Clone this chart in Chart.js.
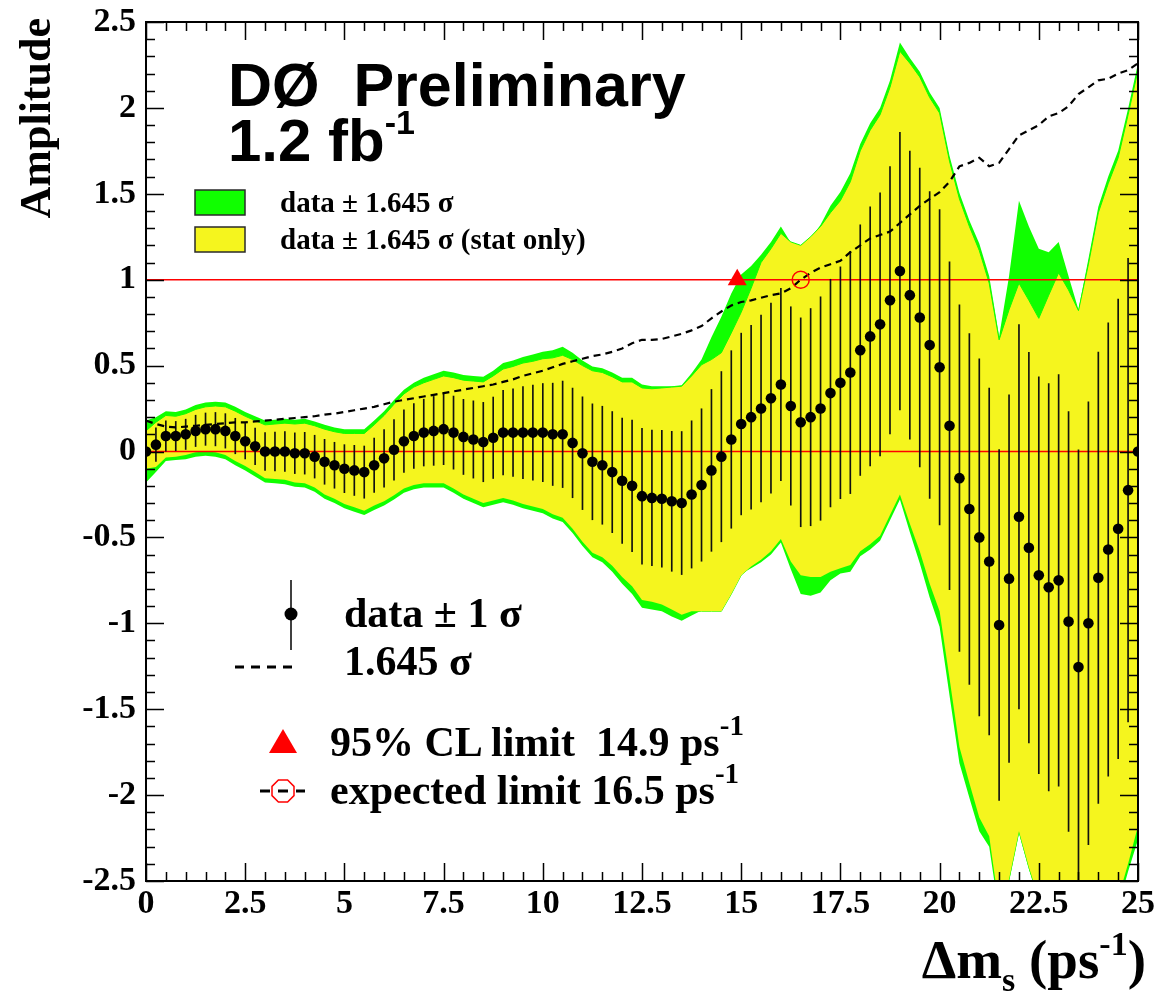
<!DOCTYPE html>
<html>
<head>
<meta charset="utf-8">
<title>Amplitude scan</title>
<script src="https://cdn.jsdelivr.net/npm/chart.js@4.4.1/dist/chart.umd.min.js"></script>
<style>
  html, body { margin: 0; padding: 0; background: #ffffff; }
  #wrap { position: relative; width: 1169px; height: 997px; }
  #c { position: absolute; left: 0; top: 0; }
  #ann { position: absolute; left: 0; top: 0; pointer-events: none; }
</style>
</head>
<body>
<div id="wrap">
  <canvas id="c" width="1169" height="997"></canvas>
  <svg id="ann" width="1169" height="997" xmlns="http://www.w3.org/2000/svg"
       font-family="'Liberation Serif','Times New Roman',serif" font-weight="bold" fill="#000">
    <!-- experiment label -->
    <text x="228" y="106" font-family="'Liberation Sans',Arial,sans-serif" font-size="61" style="white-space:pre">DØ  Preliminary</text>
    <text x="228" y="161" font-family="'Liberation Sans',Arial,sans-serif" font-size="60">1.2 fb<tspan dy="-27" font-size="34">-1</tspan></text>

    <!-- band legend -->
    <rect x="195" y="190" width="50" height="25" fill="#10ff00" stroke="#2a2a2a" stroke-width="1.5"/>
    <rect x="195" y="227" width="50" height="25" fill="#f5f51e" stroke="#2a2a2a" stroke-width="1.5"/>
    <text x="280" y="212" font-size="29">data ± 1.645 σ</text>
    <text x="280" y="249" font-size="29">data ± 1.645 σ (stat only)</text>

    <!-- data / sensitivity legend -->
    <line x1="291" y1="580" x2="291" y2="650" stroke="#000" stroke-width="1.5"/>
    <circle cx="291" cy="614" r="6.5" fill="#000"/>
    <text x="344" y="627" font-size="42">data ± 1 σ</text>
    <line x1="235" y1="667" x2="298" y2="667" stroke="#000" stroke-width="3" stroke-dasharray="9 7"/>
    <text x="344" y="675" font-size="42">1.645 σ</text>

    <!-- limit legend -->
    <polygon points="283,729 297,753 269,753" fill="#ff0000"/>
    <text id="lim95" x="330" y="756" font-size="42" style="white-space:pre"></text>
    <line x1="260" y1="791" x2="270" y2="791" stroke="#000" stroke-width="3"/>
    <line x1="278" y1="791" x2="288" y2="791" stroke="#000" stroke-width="3"/>
    <line x1="296" y1="791" x2="305" y2="791" stroke="#000" stroke-width="3"/>
    <polygon points="278.4,780 287.6,780 294,786.4 294,795.6 287.6,802 278.4,802 272,795.6 272,786.4"
             fill="none" stroke="#ff0000" stroke-width="1.5"/>
    <text id="limExp" x="330" y="804" font-size="42" style="white-space:pre"></text>

    <!-- axis titles -->
    <text transform="translate(50,18) rotate(-90)" text-anchor="end" font-size="44">Amplitude</text>
    <text x="1146" y="978" text-anchor="end" font-size="55">Δm<tspan dy="13" font-size="34">s</tspan><tspan dy="-13"> (ps</tspan><tspan dy="-23" font-size="34">-1</tspan><tspan dy="23">)</tspan></text>
  </svg>
</div>
<script>
// Oscillation frequency scan points (ps^-1)
const dm = [
  0, 0.25, 0.5, 0.75, 1, 1.25, 1.5, 1.75, 2, 2.25,
  2.5, 2.75, 3, 3.25, 3.5, 3.75, 4, 4.25, 4.5, 4.75,
  5, 5.25, 5.5, 5.75, 6, 6.25, 6.5, 6.75, 7, 7.25,
  7.5, 7.75, 8, 8.25, 8.5, 8.75, 9, 9.25, 9.5, 9.75,
  10, 10.25, 10.5, 10.75, 11, 11.25, 11.5, 11.75, 12, 12.25,
  12.5, 12.75, 13, 13.25, 13.5, 13.75, 14, 14.25, 14.5, 14.75,
  15, 15.25, 15.5, 15.75, 16, 16.25, 16.5, 16.75, 17, 17.25,
  17.5, 17.75, 18, 18.25, 18.5, 18.75, 19, 19.25, 19.5, 19.75,
  20, 20.25, 20.5, 20.75, 21, 21.25, 21.5, 21.75, 22, 22.25,
  22.5, 22.75, 23, 23.25, 23.5, 23.75, 24, 24.25, 24.5, 24.75,
  25
];

// Fitted amplitude at each scan point
const amp = [
  0.00, 0.04, 0.09, 0.09, 0.10, 0.12, 0.13, 0.13, 0.12, 0.09,
  0.06, 0.03, 0.00, 0.00, 0.00, -0.01, -0.01, -0.03, -0.06, -0.08,
  -0.10, -0.11, -0.12, -0.08, -0.04, 0.01, 0.06, 0.09, 0.11, 0.12,
  0.13, 0.11, 0.085, 0.07, 0.055, 0.08, 0.11, 0.11, 0.11, 0.11,
  0.11, 0.10, 0.10, 0.05, -0.01, -0.06, -0.08, -0.12, -0.17, -0.20,
  -0.26, -0.27, -0.275, -0.29, -0.30, -0.25, -0.195, -0.11, -0.03, 0.07,
  0.16, 0.20, 0.25, 0.31, 0.39, 0.265, 0.17, 0.20, 0.25, 0.34,
  0.40, 0.46, 0.59, 0.67, 0.74, 0.88, 1.05, 0.91, 0.78, 0.62,
  0.49, 0.15, -0.155, -0.335, -0.50, -0.64, -1.01, -0.74, -0.38, -0.56,
  -0.72, -0.79, -0.75, -0.99, -1.255, -1.00, -0.735, -0.57, -0.45, -0.225,
  0.00
];

// 1.645 sigma (total uncertainty) at each scan point
const sig = [
  0.18, 0.16, 0.145, 0.14, 0.145, 0.15, 0.155, 0.16, 0.165, 0.17,
  0.17, 0.175, 0.18, 0.185, 0.19, 0.195, 0.20, 0.205, 0.215, 0.22,
  0.23, 0.24, 0.25, 0.26, 0.275, 0.29, 0.30, 0.31, 0.32, 0.33,
  0.34, 0.35, 0.36, 0.37, 0.38, 0.39, 0.405, 0.42, 0.44, 0.455,
  0.47, 0.49, 0.51, 0.525, 0.54, 0.555, 0.565, 0.58, 0.60, 0.63,
  0.65, 0.65, 0.655, 0.67, 0.685, 0.705, 0.73, 0.775, 0.815, 0.85,
  0.87, 0.88, 0.895, 0.91, 0.92, 0.95, 1.00, 1.04, 1.07, 1.09,
  1.11, 1.16, 1.20, 1.24, 1.26, 1.28, 1.33, 1.38, 1.43, 1.47,
  1.51, 1.57, 1.66, 1.68, 1.71, 1.66, 1.68, 1.76, 1.84, 1.87,
  1.90, 1.95, 1.97, 2.01, 2.08, 2.12, 2.16, 2.17, 2.20, 2.22,
  2.26
];

// Upper edge of the statistical-only 1.645 sigma band
const statHi = [
  0.12, 0.17, 0.21, 0.205, 0.22, 0.245, 0.26, 0.265, 0.26, 0.235,
  0.205, 0.18, 0.155, 0.16, 0.165, 0.16, 0.165, 0.15, 0.13, 0.115,
  0.105, 0.105, 0.105, 0.155, 0.21, 0.275, 0.335, 0.375, 0.40, 0.42,
  0.44, 0.43, 0.415, 0.41, 0.405, 0.44, 0.48, 0.495, 0.515, 0.525,
  0.54, 0.545, 0.56, 0.535, 0.50, 0.47, 0.46, 0.435, 0.405, 0.405,
  0.37, 0.365, 0.37, 0.375, 0.38, 0.44, 0.505, 0.535, 0.575, 0.69,
  0.81, 0.95, 1.10, 1.18, 1.27, 1.22, 1.20, 1.25, 1.31, 1.39,
  1.46, 1.57, 1.75, 1.87, 1.96, 2.12, 2.33, 2.26, 2.18, 2.06,
  1.97, 1.69, 1.47, 1.31, 1.17, 0.98, 0.65, 0.825, 0.98, 0.88,
  0.775, 0.91, 1.04, 0.94, 0.82, 1.09, 1.39, 1.56, 1.71, 1.96,
  2.22
];

// Lower edge of the statistical-only 1.645 sigma band
const statLo = [
  -0.10, -0.09, -0.035, -0.03, -0.02, -0.005, 0.00, -0.005, -0.02, -0.055,
  -0.085, -0.12, -0.155, -0.16, -0.165, -0.18, -0.185, -0.21, -0.25, -0.275,
  -0.305, -0.325, -0.345, -0.315, -0.29, -0.255, -0.215, -0.195, -0.185, -0.185,
  -0.185, -0.215, -0.25, -0.275, -0.30, -0.285, -0.27, -0.285, -0.305, -0.32,
  -0.335, -0.365, -0.385, -0.45, -0.525, -0.59, -0.615, -0.665, -0.73, -0.785,
  -0.865, -0.875, -0.89, -0.92, -0.95, -0.93, -0.93, -0.93, -0.93, -0.83,
  -0.72, -0.67, -0.63, -0.58, -0.51, -0.64, -0.72, -0.73, -0.73, -0.70,
  -0.68, -0.66, -0.58, -0.54, -0.49, -0.37, -0.25, -0.42, -0.58, -0.77,
  -0.93, -1.32, -1.72, -1.93, -2.13, -2.24, -2.65, -2.49, -2.21, -2.42,
  -2.60, -2.72, -2.70, -2.97, -3.30, -3.08, -2.85, -2.70, -2.60, -2.40,
  -2.18
];

// Axis ticks and labels
const xTickValues = [0, 2.5, 5, 7.5, 10, 12.5, 15, 17.5, 20, 22.5, 25];
const xTickLabels = ['0', '2.5', '5', '7.5', '10', '12.5', '15', '17.5', '20', '22.5', '25'];
const yTickValues = [-2.5, -2, -1.5, -1, -0.5, 0, 0.5, 1, 1.5, 2, 2.5];
const yTickLabels = ['-2.5', '-2', '-1.5', '-1', '-0.5', '0', '0.5', '1', '1.5', '2', '2.5'];

// Reference amplitude levels and limits
const refLevels = [0, 1];
const limitLevel = 1;
const limit95 = 14.9;
const limitExpected = 16.5;
const sigmaScale = 1.645;

const GREEN = '#10ff00';
const YELLOW = '#f5f51e';
const RED = '#ff0000';

document.getElementById('lim95').textContent = '95% CL limit  ' + limit95 + ' ps';
document.getElementById('limExp').textContent = 'expected limit ' + limitExpected + ' ps';
(function addSup() {
  const ns = 'http://www.w3.org/2000/svg';
  ['lim95', 'limExp'].forEach(id => {
    const t = document.getElementById(id);
    const s = document.createElementNS(ns, 'tspan');
    s.setAttribute('dy', '-21');
    s.setAttribute('font-size', '29');
    s.textContent = '-1';
    t.appendChild(s);
  });
})();

const xy = (vals) => dm.map((x, i) => ({ x, y: vals[i] }));
const greenHi = dm.map((x, i) => ({ x, y: amp[i] + sig[i] }));
const greenLo = dm.map((x, i) => ({ x, y: amp[i] - sig[i] }));
const errBars = dm.map((x, i) => ({ x, y: [amp[i] - sig[i] / sigmaScale, amp[i] + sig[i] / sigmaScale] }));
const xMin = xTickValues[0];
const xMax = xTickValues[xTickValues.length - 1];

const FONT_TICK = { family: "'Liberation Serif','Times New Roman',serif", weight: 'bold', size: 34 };

// Frame with inward-pointing major and minor ticks on all four sides
const framePlugin = {
  id: 'frame',
  afterDatasetsDraw(chart) {
    const { ctx, chartArea: a, scales: { x, y } } = chart;
    const MAJ = 18, MIN = 9;
    ctx.save();
    ctx.strokeStyle = '#000';
    ctx.lineWidth = 1.5;
    ctx.beginPath();
    for (let k = 0; k <= 50; k++) {
      const v = k * 0.5;
      const px = Math.round(x.getPixelForValue(v)) + 0.5;
      const len = (k % 5 === 0) ? MAJ : MIN;
      ctx.moveTo(px, a.bottom); ctx.lineTo(px, a.bottom - len);
      ctx.moveTo(px, a.top); ctx.lineTo(px, a.top + len);
    }
    for (let k = -25; k <= 25; k++) {
      const v = k * 0.1;
      const py = Math.round(y.getPixelForValue(v)) + 0.5;
      const len = (k % 5 === 0) ? MAJ : MIN;
      ctx.moveTo(a.left, py); ctx.lineTo(a.left + len, py);
      ctx.moveTo(a.right, py); ctx.lineTo(a.right - len, py);
    }
    ctx.stroke();
    ctx.lineWidth = 2;
    ctx.strokeRect(a.left, a.top, a.right - a.left, a.bottom - a.top);
    ctx.restore();
  }
};

const datasets = [
  // total uncertainty band
  { type: 'line', data: greenHi, borderColor: 'rgba(0,0,0,0)', borderWidth: 1, pointRadius: 0,
    fill: '+1', backgroundColor: GREEN, order: 20 },
  { type: 'line', data: greenLo, borderColor: 'rgba(0,0,0,0)', borderWidth: 1, pointRadius: 0,
    fill: false, order: 20 },
  // statistical-only band
  { type: 'line', data: xy(statHi), borderColor: GREEN, borderWidth: 1, pointRadius: 0,
    fill: '+1', backgroundColor: YELLOW, order: 18 },
  { type: 'line', data: xy(statLo), borderColor: GREEN, borderWidth: 1, pointRadius: 0,
    fill: false, order: 18 },
  // 1 sigma error bars
  { type: 'bar', data: errBars, backgroundColor: '#111', borderWidth: 0, barThickness: 1,
    grouped: false, order: 12 },
  // 1.645 sigma sensitivity curve
  { type: 'line', data: xy(sig), borderColor: '#000', borderWidth: 2.2, borderDash: [7, 5],
    pointRadius: 0, fill: false, tension: 0, order: 10 },
  // amplitude points
  { type: 'line', data: xy(amp), showLine: false, pointRadius: 5.3, pointStyle: 'circle',
    pointBackgroundColor: '#000', pointBorderColor: '#000', pointBorderWidth: 0, order: 5 },
  // limits
  { type: 'line', data: [{ x: limit95, y: limitLevel }], showLine: false, pointStyle: 'triangle',
    pointRadius: 11, pointBackgroundColor: RED, pointBorderColor: RED, pointBorderWidth: 0, order: 1 },
  { type: 'line', data: [{ x: limitExpected, y: limitLevel }], showLine: false, pointStyle: 'circle',
    pointRadius: 8.5, pointBackgroundColor: 'rgba(0,0,0,0)', pointBorderColor: RED, pointBorderWidth: 1.5, order: 1 }
];

// horizontal reference levels
refLevels.forEach(level => {
  datasets.push({ type: 'line', data: [{ x: xMin, y: level }, { x: xMax, y: level }],
    borderColor: RED, borderWidth: 1.4, pointRadius: 0, fill: false, order: 14 });
});

new Chart(document.getElementById('c'), {
  type: 'line',
  data: { datasets },
  plugins: [framePlugin],
  options: {
    responsive: false,
    animation: false,
    devicePixelRatio: 1,
    layout: { padding: { top: 22, right: 31, left: 0, bottom: 0 } },
    plugins: { legend: { display: false }, tooltip: { enabled: false } },
    events: [],
    scales: {
      x: {
        type: 'linear', min: xMin, max: xMax, offset: false,
        grid: { display: false, drawTicks: true, tickLength: 3 },
        border: { display: false },
        afterBuildTicks: (s) => { s.ticks = xTickValues.map(v => ({ value: v })); },
        afterFit: (s) => { s.height = 116; },
        ticks: {
          autoSkip: false, maxRotation: 0, padding: 0, color: '#000', font: FONT_TICK,
          callback: (v, i) => xTickLabels[i]
        }
      },
      y: {
        type: 'linear', min: yTickValues[0], max: yTickValues[yTickValues.length - 1],
        grid: { display: false, drawTicks: true, tickLength: 10 },
        border: { display: false },
        afterBuildTicks: (s) => { s.ticks = yTickValues.map(v => ({ value: v })); },
        afterFit: (s) => { s.width = 146; },
        ticks: {
          autoSkip: false, padding: 0, color: '#000', font: FONT_TICK,
          callback: (v, i) => yTickLabels[i]
        }
      }
    }
  }
});
</script>
</body>
</html>
